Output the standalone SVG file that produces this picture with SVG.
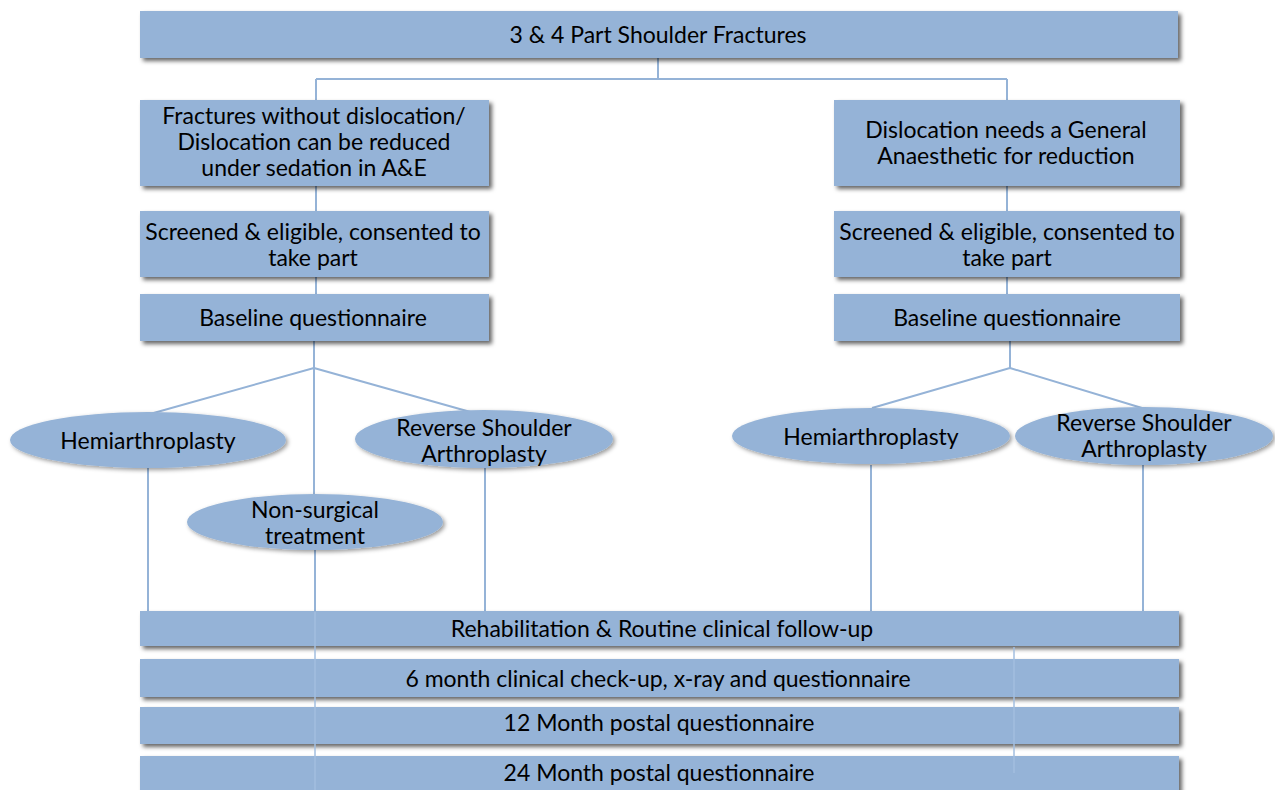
<svg xmlns="http://www.w3.org/2000/svg" width="1275" height="790" viewBox="0 0 1275 790">
<defs>
<filter id="sh" x="-5%" y="-20%" width="112%" height="150%">
<feDropShadow dx="3" dy="3" stdDeviation="2" flood-color="#000" flood-opacity="0.6"/>
</filter>
<filter id="she" x="-5%" y="-20%" width="112%" height="150%">
<feDropShadow dx="2" dy="2" stdDeviation="2" flood-color="#000" flood-opacity="0.4"/>
</filter>
</defs>
<style>
.box{fill:#95b3d7;filter:url(#sh)}
.ell{fill:#95b3d7;filter:url(#she)}
.t{font-family:Lato,"Liberation Sans",sans-serif;font-size:23px;fill:#000;text-anchor:middle;dominant-baseline:central}
.c{stroke:#95b3d7;stroke-width:2;fill:none}
.co{stroke:#a3bedf;stroke-width:1.5;fill:none}
</style>
<rect width="1275" height="790" fill="#fff"/>
<g id="connectors">
<path class="c" d="M658 58V79M316 79H1007M316 79V100M1007 79V100"/>
<path class="c" d="M316 186V211M1007 186V211M316 277V294M1007 277V294"/>
<path class="c" d="M314 341V368L150 414M314 368L474 413M314 368V494"/>
<path class="c" d="M1010 341V368L872 408M1010 368L1142 408"/>
<path class="c" d="M148 468V612M485 468V612M871 465V612M1143 465V612M315 550V612"/>
</g>
<g id="n-top"><rect class="box" x="140" y="11" width="1038" height="47"/><text class="t" x="658" y="34">3 &amp; 4 Part Shoulder Fractures</text></g>
<g id="n-left-frac"><rect class="box" x="140" y="100" width="349" height="86"/><text class="t" x="314" y="115">Fractures without dislocation/</text><text class="t" x="314" y="141">Dislocation can be reduced</text><text class="t" x="314" y="167">under sedation in A&amp;E</text></g>
<g id="n-right-disl"><rect class="box" x="834" y="100" width="346" height="86"/><text class="t" x="1006" y="129">Dislocation needs a General</text><text class="t" x="1006" y="155">Anaesthetic for reduction</text></g>
<g id="n-left-screen"><rect class="box" x="140" y="211" width="349" height="66"/><text class="t" x="313" y="231">Screened &amp; eligible, consented to</text><text class="t" x="313" y="257">take part</text></g>
<g id="n-right-screen"><rect class="box" x="834" y="211" width="346" height="66"/><text class="t" x="1007" y="231">Screened &amp; eligible, consented to</text><text class="t" x="1007" y="257">take part</text></g>
<g id="n-left-base"><rect class="box" x="140" y="294" width="349" height="47"/><text class="t" x="313" y="317">Baseline questionnaire</text></g>
<g id="n-right-base"><rect class="box" x="834" y="294" width="346" height="47"/><text class="t" x="1007" y="317">Baseline questionnaire</text></g>
<g id="n-left-hemi"><ellipse class="ell" cx="148" cy="440" rx="138" ry="28"/><text class="t" x="148" y="440">Hemiarthroplasty</text></g>
<g id="n-left-rsa"><ellipse class="ell" cx="484" cy="439" rx="129" ry="29"/><text class="t" x="484" y="427">Reverse Shoulder</text><text class="t" x="484" y="453">Arthroplasty</text></g>
<g id="n-nonsurg"><ellipse class="ell" cx="315" cy="522" rx="128" ry="28"/><text class="t" x="315" y="509">Non-surgical</text><text class="t" x="315" y="535">treatment</text></g>
<g id="n-right-hemi"><ellipse class="ell" cx="871" cy="436" rx="139" ry="28"/><text class="t" x="871" y="436">Hemiarthroplasty</text></g>
<g id="n-right-rsa"><ellipse class="ell" cx="1144" cy="436" rx="129" ry="29"/><text class="t" x="1144" y="422">Reverse Shoulder</text><text class="t" x="1144" y="448">Arthroplasty</text></g>
<g id="n-rehab"><rect class="box" x="140" y="611" width="1039" height="35"/><text class="t" x="662" y="628">Rehabilitation &amp; Routine clinical follow-up</text></g>
<g id="n-6m"><rect class="box" x="140" y="659" width="1039" height="38"/><text class="t" x="658" y="678">6 month clinical check-up, x-ray and questionnaire</text></g>
<g id="n-12m"><rect class="box" x="140" y="707" width="1039" height="37"/><text class="t" x="659" y="722">12 Month postal questionnaire</text></g>
<g id="n-24m"><rect class="box" x="140" y="756" width="1039" height="40"/><text class="t" x="659" y="772">24 Month postal questionnaire</text></g>
<g id="connectors-over">
<path class="co" d="M315 612V790M1014 647V773"/>
</g>
</svg>
